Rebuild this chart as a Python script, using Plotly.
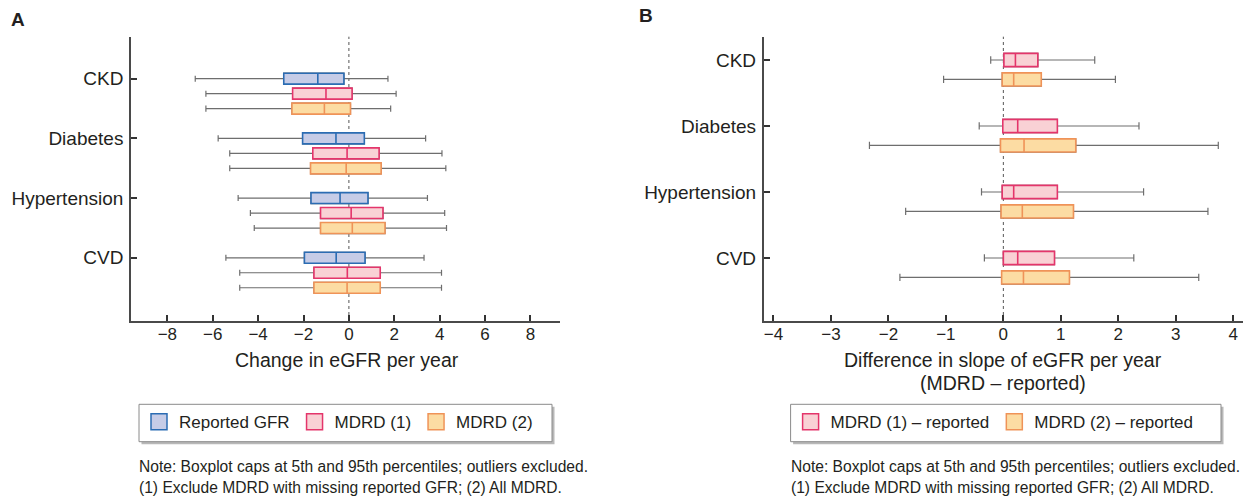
import plotly.graph_objects as go

# ---------------- data ----------------
categories = ["CKD", "Diabetes", "Hypertension", "CVD"]

# Panel A: change in eGFR per year  (5th pct, Q1, median, Q3, 95th pct)
a_rep_p5 = [-6.77, -5.76, -4.88, -5.42]
a_rep_q1 = [-2.87, -2.04, -1.67, -1.96]
a_rep_med = [-1.37, -0.57, -0.39, -0.56]
a_rep_q3 = [-0.22, 0.68, 0.84, 0.71]
a_rep_p95 = [1.72, 3.38, 3.46, 3.31]

a_m1_p5 = [-6.30, -5.25, -4.34, -4.81]
a_m1_q1 = [-2.48, -1.59, -1.25, -1.54]
a_m1_med = [-1.01, -0.08, 0.10, -0.07]
a_m1_q3 = [0.14, 1.33, 1.50, 1.38]
a_m1_p95 = [2.08, 4.10, 4.22, 4.08]

a_m2_p5 = [-6.30, -5.25, -4.17, -4.81]
a_m2_q1 = [-2.51, -1.69, -1.25, -1.54]
a_m2_med = [-1.08, -0.12, 0.15, -0.08]
a_m2_q3 = [0.07, 1.42, 1.59, 1.38]
a_m2_p95 = [1.84, 4.27, 4.30, 4.08]

# Panel B: difference in slope (MDRD - reported)
b_m1_p5 = [-0.22, -0.42, -0.38, -0.33]
b_m1_q1 = [0.01, -0.01, -0.02, 0.00]
b_m1_med = [0.21, 0.25, 0.18, 0.25]
b_m1_q3 = [0.60, 0.94, 0.94, 0.89]
b_m1_p95 = [1.59, 2.36, 2.44, 2.27]

b_m2_p5 = [-1.04, -2.33, -1.70, -1.80]
b_m2_q1 = [-0.02, -0.05, -0.04, -0.03]
b_m2_med = [0.18, 0.36, 0.33, 0.35]
b_m2_q3 = [0.66, 1.26, 1.22, 1.15]
b_m2_p95 = [1.95, 3.74, 3.56, 3.40]

a_ticks = [-8, -6, -4, -2, 0, 2, 4, 6, 8]
b_ticks = [-4, -3, -2, -1, 0, 1, 2, 3, 4]

# ---------------- style ----------------
FONT = "Liberation Sans, Arial, Helvetica, sans-serif"
TXT = "#231f20"
WHISK = "#6e6e6e"
STY = {
    "rep": dict(fill="#c6cce7", line="#2b6cb3"),
    "m1": dict(fill="#f9d1d5", line="#e4356b"),
    "m2": dict(fill="#fcdca3", line="#ef9358"),
}

fig = go.Figure()


def add_box(xaxis, yaxis, pos, p5, q1, med, q3, p95, sty, width):
    # whiskers + caps (gray)
    fig.add_trace(go.Box(
        orientation="h", y=pos, q1=q1, median=med, q3=q3,
        lowerfence=p5, upperfence=p95, width=width, whiskerwidth=0.55,
        fillcolor="rgba(0,0,0,0)", line=dict(color=WHISK, width=1.2),
        xaxis=xaxis, yaxis=yaxis, showlegend=False, hoverinfo="skip",
        boxpoints=False))
    # coloured box on top
    fig.add_trace(go.Box(
        orientation="h", y=pos, q1=q1, median=med, q3=q3,
        lowerfence=q1, upperfence=q3, width=width, whiskerwidth=0,
        fillcolor=sty["fill"], line=dict(color=sty["line"], width=1.6),
        xaxis=xaxis, yaxis=yaxis, showlegend=False, hoverinfo="skip",
        boxpoints=False))


def add_legend_entry(name, sty, legend):
    fig.add_trace(go.Scatter(
        x=[None], y=[None], mode="markers", name=name, legend=legend,
        marker=dict(symbol="square", size=16, color=sty["fill"],
                    line=dict(color=sty["line"], width=1.5)),
        showlegend=True))


# Panel A
a_off = [0.0, 0.251, 0.502]
a_series = [
    (a_rep_p5, a_rep_q1, a_rep_med, a_rep_q3, a_rep_p95, STY["rep"]),
    (a_m1_p5, a_m1_q1, a_m1_med, a_m1_q3, a_m1_p95, STY["m1"]),
    (a_m2_p5, a_m2_q1, a_m2_med, a_m2_q3, a_m2_p95, STY["m2"]),
]
for k, (p5, q1, md, q3, p95, sty) in enumerate(a_series):
    pos = [i + a_off[k] for i in range(len(categories))]
    add_box("x", "y", pos, p5, q1, md, q3, p95, sty, 0.184)

# Panel B
b_off = [0.0, 0.295]
b_series = [
    (b_m1_p5, b_m1_q1, b_m1_med, b_m1_q3, b_m1_p95, STY["m1"]),
    (b_m2_p5, b_m2_q1, b_m2_med, b_m2_q3, b_m2_p95, STY["m2"]),
]
for k, (p5, q1, md, q3, p95, sty) in enumerate(b_series):
    pos = [i + b_off[k] for i in range(len(categories))]
    add_box("x2", "y2", pos, p5, q1, md, q3, p95, sty, 0.2)

add_legend_entry("Reported GFR", STY["rep"], "legend")
add_legend_entry("MDRD (1)", STY["m1"], "legend")
add_legend_entry("MDRD (2)", STY["m2"], "legend")
add_legend_entry("MDRD (1) \u2013 reported", STY["m1"], "legend2")
add_legend_entry("MDRD (2) \u2013 reported", STY["m2"], "legend2")

W, H = 1257, 498
YDOM = [1 - 321 / H, 1 - 36.7 / H]

axis_common = dict(showline=True, linecolor="#4a4a4a", linewidth=1.6,
                   ticks="inside", ticklen=6, tickwidth=2, tickcolor="#333",
                   showgrid=False, zeroline=False, mirror=False)

fig.update_layout(
    width=W, height=H, margin=dict(l=0, r=0, t=0, b=0),
    paper_bgcolor="white", plot_bgcolor="white",
    boxmode="overlay",
    font=dict(family=FONT, color=TXT),
    xaxis=dict(domain=[131 / W, 560 / W], anchor="y", range=[-9.6, 9.3],
               tickvals=a_ticks, tickfont=dict(size=17, color=TXT),
               ticklabelstandoff=-3, **axis_common),
    yaxis=dict(domain=YDOM, anchor="x", range=[4.059, -0.703],
               tickvals=list(range(len(categories))), ticktext=categories,
               tickfont=dict(size=19, color=TXT), ticklabelstandoff=2,
               **axis_common),
    xaxis2=dict(domain=[763.7 / W, 1243 / W], anchor="y2", range=[-4.17, 4.17],
                tickvals=b_ticks, tickfont=dict(size=17, color=TXT),
                ticklabelstandoff=-3, **axis_common),
    yaxis2=dict(domain=YDOM, anchor="x2", range=[3.955, -0.353],
                tickvals=list(range(len(categories))), ticktext=categories,
                tickfont=dict(size=19, color=TXT), ticklabelstandoff=2,
                **axis_common),
    legend=dict(orientation="h", x=139 / W, y=1 - 404.3 / H,
                xanchor="left", yanchor="top", bgcolor="rgba(0,0,0,0)",
                borderwidth=0,
                font=dict(size=17, color=TXT, family=FONT)),
    legend2=dict(orientation="h", x=790.6 / W, y=1 - 404.3 / H,
                 xanchor="left", yanchor="top", bgcolor="rgba(0,0,0,0)",
                 borderwidth=0,
                 font=dict(size=17, color=TXT, family=FONT)),
)

# zero reference lines
for xr in ("x", "x2"):
    fig.add_shape(type="line", xref=xr, yref=xr.replace("x", "y") + " domain",
                  x0=0, x1=0, y0=0, y1=1,
                  line=dict(color="#555", width=1, dash="dot"), layer="below")

# legend frames with drop shadow
for (x0, x1) in ((139, 552), (790.6, 1221)):
    y0p, y1p = 404.3, 441.7
    fig.add_shape(type="rect", xref="paper", yref="paper",
                  x0=(x0 + 2.5) / W, x1=(x1 + 2.5) / W,
                  y0=1 - (y1p + 2.5) / H, y1=1 - (y0p + 2.5) / H,
                  line=dict(width=0), fillcolor="#b8b8b8", layer="above")
    fig.add_shape(type="rect", xref="paper", yref="paper",
                  x0=x0 / W, x1=x1 / W, y0=1 - y1p / H, y1=1 - y0p / H,
                  line=dict(width=1, color="#8a8a8a"), fillcolor="white",
                  layer="above")

ann = []


def txt(x, y, s, size, xanchor="center", bold=False):
    ann.append(dict(x=x / W, y=1 - y / H, xref="paper", yref="paper",
                    text=f"<b>{s}</b>" if bold else s, showarrow=False,
                    xanchor=xanchor, yanchor="middle",
                    font=dict(size=size, color=TXT, family=FONT)))


txt(9, 19, "A", 19, "left", bold=True)
txt(637, 16, "B", 19, "left", bold=True)
txt(347, 360, "Change in eGFR per year", 19.5)
txt(1003, 360, "Difference in slope of eGFR per year", 19.5)
txt(1003, 383, "(MDRD \u2013 reported)", 19.5)
note1 = "Note: Boxplot caps at 5th and 95th percentiles; outliers excluded."
note2 = "(1) Exclude MDRD with missing reported GFR; (2) All MDRD."
txt(137, 466, note1, 15.6, "left")
txt(137, 487, note2, 15.6, "left")
txt(789, 466, note1, 15.6, "left")
txt(789, 487, note2, 15.6, "left")
fig.update_layout(annotations=ann)

fig.write_html("out.html")
